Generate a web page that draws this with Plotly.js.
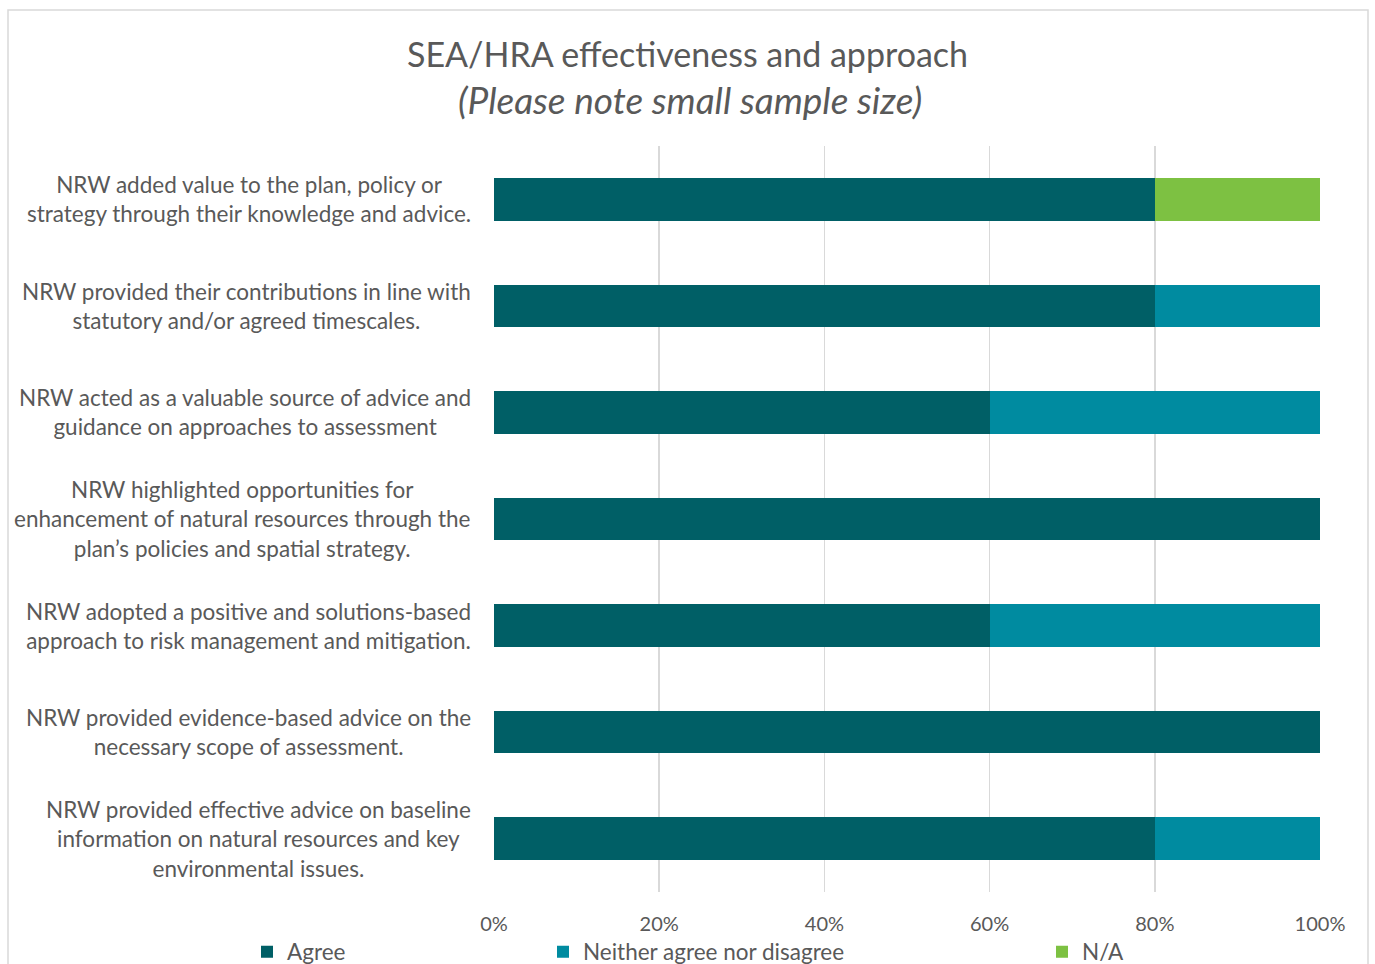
<!DOCTYPE html>
<html>
<head>
<meta charset="utf-8">
<script src="https://cdn.plot.ly/plotly-3.0.1.min.js"></script>
<style>html,body{margin:0;padding:0;background:#fff;}#chart{width:1375px;height:964px;}</style>
</head>
<body>
<div id="chart"></div>
<script>
const categories = [
  "NRW added value to the plan, policy or<br>strategy through their knowledge and advice.",
  "NRW provided their contributions in line with<br>statutory and/or agreed timescales.",
  "NRW acted as a valuable source of advice and<br>guidance on approaches to assessment",
  "NRW highlighted opportunities for<br>enhancement of natural resources through the<br>plan’s policies and spatial strategy.",
  "NRW adopted a positive and solutions-based<br>approach to risk management and mitigation.",
  "NRW provided evidence-based advice on the<br>necessary scope of assessment.",
  "NRW provided effective advice on baseline<br>information on natural resources and key<br>environmental issues."
];
const agree   = [80, 80, 60, 100, 60, 100, 80];
const neither = [0, 20, 40, 0, 40, 0, 20];
const na      = [20, 0, 0, 0, 0, 0, 0];
const seriesNames = ["Agree", "Neither agree nor disagree", "N/A"];
const tickVals = [0, 20, 40, 60, 80, 100];
const tickText = ["0%", "20%", "40%", "60%", "80%", "100%"];

const font = "Lato, 'Open Sans', sans-serif";
const grey = "#595959";

const traces = [
  {type:'bar', orientation:'h', name:seriesNames[0], y:categories, x:agree, marker:{color:'#005F66'}, legend:'legend'},
  {type:'bar', orientation:'h', name:seriesNames[1], y:categories, x:neither, marker:{color:'#008BA0'}, legend:'legend2'},
  {type:'bar', orientation:'h', name:seriesNames[2], y:categories, x:na, marker:{color:'#7DC142'}, legend:'legend3'}
];

const annotations = categories.map(c => ({
  xref:'paper', yref:'y', x:0, y:c, xanchor:'right', yanchor:'middle', xshift:-21,
  text:c, align:'center', showarrow:false,
  font:{family:font, size:22.5, color:grey}
}));
annotations.push({
  xref:'paper', yref:'paper', x:(689.5-494)/826, y:1+(146-100)/746, xanchor:'center', yanchor:'middle',
  text:'<i>(Please note small sample size)</i>', showarrow:false,
  font:{family:font, size:37, color:grey}
});

const legendCommon = {orientation:'h', xref:'container', yref:'container', yanchor:'middle',
  font:{family:font, size:22.5, color:grey}, bgcolor:'rgba(0,0,0,0)', itemwidth:30};

const layout = {
  width:1375, height:964,
  margin:{l:494, r:55, t:146, b:72},
  paper_bgcolor:'#fff', plot_bgcolor:'#fff',
  barmode:'stack', bargap:0.6,
  title:{text:'SEA/HRA effectiveness and approach', xref:'container', yref:'container', x:0.5, y:1-55/964,
    xanchor:'center', yanchor:'middle', font:{family:font, size:34, color:grey}},
  xaxis:{range:[0,100], tickvals:tickVals, ticktext:tickText, showgrid:true, gridcolor:'#D9D9D9', gridwidth:1.5,
    zeroline:false, showline:false, ticks:'', ticklabelstandoff:18,
    tickfont:{family:font, size:20, color:grey}, fixedrange:true},
  yaxis:{autorange:'reversed', showticklabels:false, showgrid:false, zeroline:false, showline:false, ticks:''},
  showlegend:true,
  legend: Object.assign({}, legendCommon, {x:(265-18)/1375, y:1-952/964}),
  legend2: Object.assign({}, legendCommon, {x:(561-18)/1375, y:1-952/964}),
  legend3: Object.assign({}, legendCommon, {x:(1060-18)/1375, y:1-952/964}),
  annotations: annotations,
  shapes:[{type:'rect', xref:'paper', yref:'paper', x0:(8-494)/826, x1:(1368-494)/826, y0:-0.12, y1:1+(146-10)/746,
    line:{color:'#D9D9D9', width:1.5}, fillcolor:'rgba(0,0,0,0)', layer:'below'}]
};

Plotly.newPlot('chart', traces, layout, {displayModeBar:false, staticPlot:true});
</script>
</body>
</html>
